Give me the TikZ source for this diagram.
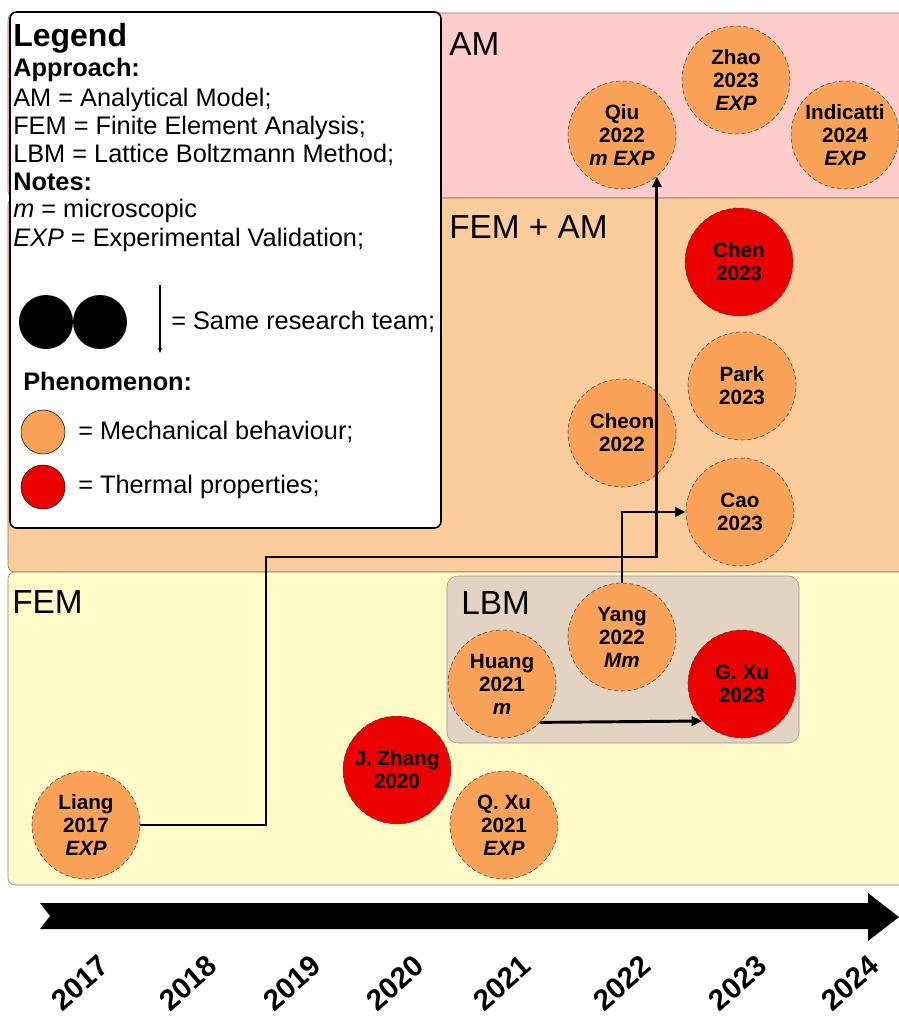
\documentclass[tikz,border=0pt]{standalone}
\usepackage{fontspec}
\setmainfont{Liberation Sans}
\usetikzlibrary{arrows.meta}
\usetikzlibrary{positioning}

\definecolor{ampink}{RGB}{255,204,204}
\definecolor{fempeach}{RGB}{253,204,157}
\definecolor{femyellow}{RGB}{255,251,201}
\definecolor{lbmgrey}{RGB}{226,211,195}
\definecolor{bandline}{RGB}{140,120,110}
\definecolor{mechcol}{RGB}{250,163,88}
\definecolor{thermcol}{RGB}{236,0,0}

\begin{document}
\begin{tikzpicture}
	[x=0.75pt,y=-0.75pt,
	 paper/.style={circle,draw=black!75,densely dashed,thin,inner sep=0pt,minimum size=81pt,
	   align=center,font=\fontsize{15.5}{17.3}\selectfont\bfseries},
	 mech/.style={paper,fill=mechcol},
	 therm/.style={paper,fill=thermcol},
	 flow/.style={-{Triangle[length=8pt,width=7pt]},line width=2.2pt},
	 region/.style={anchor=west,inner sep=0pt,font=\fontsize{25}{25}\selectfont},
	 legline/.style={anchor=base west,inner sep=0pt,font=\fontsize{19}{21}\selectfont},
	 year/.style={rotate=41,inner sep=0pt,font=\fontsize{22}{22}\selectfont\bfseries}]
	\useasboundingbox (0,0) rectangle (899,1017);

	% approach bands
	\draw[bandline,fill=ampink,rounded corners=5] (8,13) rectangle (915,198);
	\draw[bandline,fill=fempeach,rounded corners=5] (8,198) rectangle (915,572);
	\draw[bandline,fill=femyellow,rounded corners=5] (8,572) rectangle (915,885);
	\draw[bandline!80,fill=lbmgrey,rounded corners=8] (447,576) rectangle (799,743);

	\node[region] (lblam) at (449,44) {AM};
	\node[region] (lblfemam) at (449,227) {FEM + AM};
	\node[region] (lblfem) at (12,602) {FEM};
	\node[region] (lbllbm) at (461,603) {LBM};

	% legend
	\draw[fill=white,line width=1.2pt,rounded corners=5] (10,12) rectangle (441,528);
	\node[legline,font=\fontsize{24}{24}\selectfont\bfseries] (legtitle) at (13,46) {Legend};
	\foreach \yy/\txt in {76/\textbf{Approach:}, 106/AM = Analytical Model;,
		134/FEM = Finite Element Analysis;, 162/LBM = Lattice Boltzmann Method;,
		190/\textbf{Notes:}, 217/\textit{m} = microscopic,
		246/\textit{EXP} = Experimental Validation;}
		\node[legline] (leg\yy) at (13,\yy) {\txt};

	\node[circle,fill=black,minimum size=40.5pt,inner sep=0pt] (teama) at (46,322) {};
	\node[circle,fill=black,minimum size=40.5pt,inner sep=0pt] (teamb) at (100,322) {};
	\coordinate (teamtop) at (160,285);
	\coordinate (teambot) at (160,353);
	\draw[-{Stealth[length=4pt,width=3pt]},line width=0.8pt] (teamtop) -- (teambot);
	\node[legline,anchor=west] (teamtxt) at (171,322) {= Same research team;};

	\node[legline] (legphen) at (23,390) {\textbf{Phenomenon:}};
	\node[circle,draw,fill=mechcol,minimum size=33pt,inner sep=0pt] (keymech) at (43,432) {};
	\node[legline,anchor=west] (keymechtxt) at (78,432) {= Mechanical behaviour;};
	\node[circle,draw,fill=thermcol,minimum size=33pt,inner sep=0pt] (keytherm) at (43,487) {};
	\node[legline,anchor=west] (keythermtxt) at (78,487) {= Thermal properties;};

	% studies
	\node[mech] (qiu) at (622,135) {Qiu\\2022\\\textit{m EXP}};
	\node[mech] (zhao) at (736,80) {Zhao\\2023\\\textit{EXP}};
	\node[mech] (indicatti) at (845,135) {Indicatti\\2024\\\textit{EXP}};
	\node[therm] (chen) at (739,262) {Chen\\2023};
	\node[mech] (park) at (742,386) {Park\\2023};
	\node[mech] (cheon) at (622,433) {Cheon\\2022};
	\node[mech] (cao) at (740,512) {Cao\\2023};
	\node[mech] (yang) at (622,637) {Yang\\2022\\\textit{Mm}};
	\node[mech] (huang) at (502,684) {Huang\\2021\\\textit{m}};
	\node[therm] (gxu) at (742,684) {G. Xu\\2023};
	\node[therm] (jzhang) at (397,770) {J. Zhang\\2020};
	\node[mech] (qxu) at (504,825) {Q. Xu\\2021\\\textit{EXP}};
	\node[mech] (liang) at (86,825) {Liang\\2017\\\textit{EXP}};

	% same team links
	\coordinate (stepup) at (266,557);
	\draw[flow] (liang.east) -| (stepup) -| (qiu.-50);
	\draw[flow] (yang.north) |- (cao.west);
	\draw[flow] (huang.-45) -- (gxu.-137);

	% time axis
	\fill (40,903) -- (868,903) -- (868,893) -- (899,917) -- (868,941) -- (868,929)
		-- (40,929) -- (50,916) -- cycle;
	\foreach \xx/\yr in {80/2017, 188/2018, 292/2019, 395/2020, 502/2021, 622/2022, 738/2023, 850/2024}
		\node[year] (y\yr) at (\xx,983) {\yr};
\end{tikzpicture}
\end{document}
